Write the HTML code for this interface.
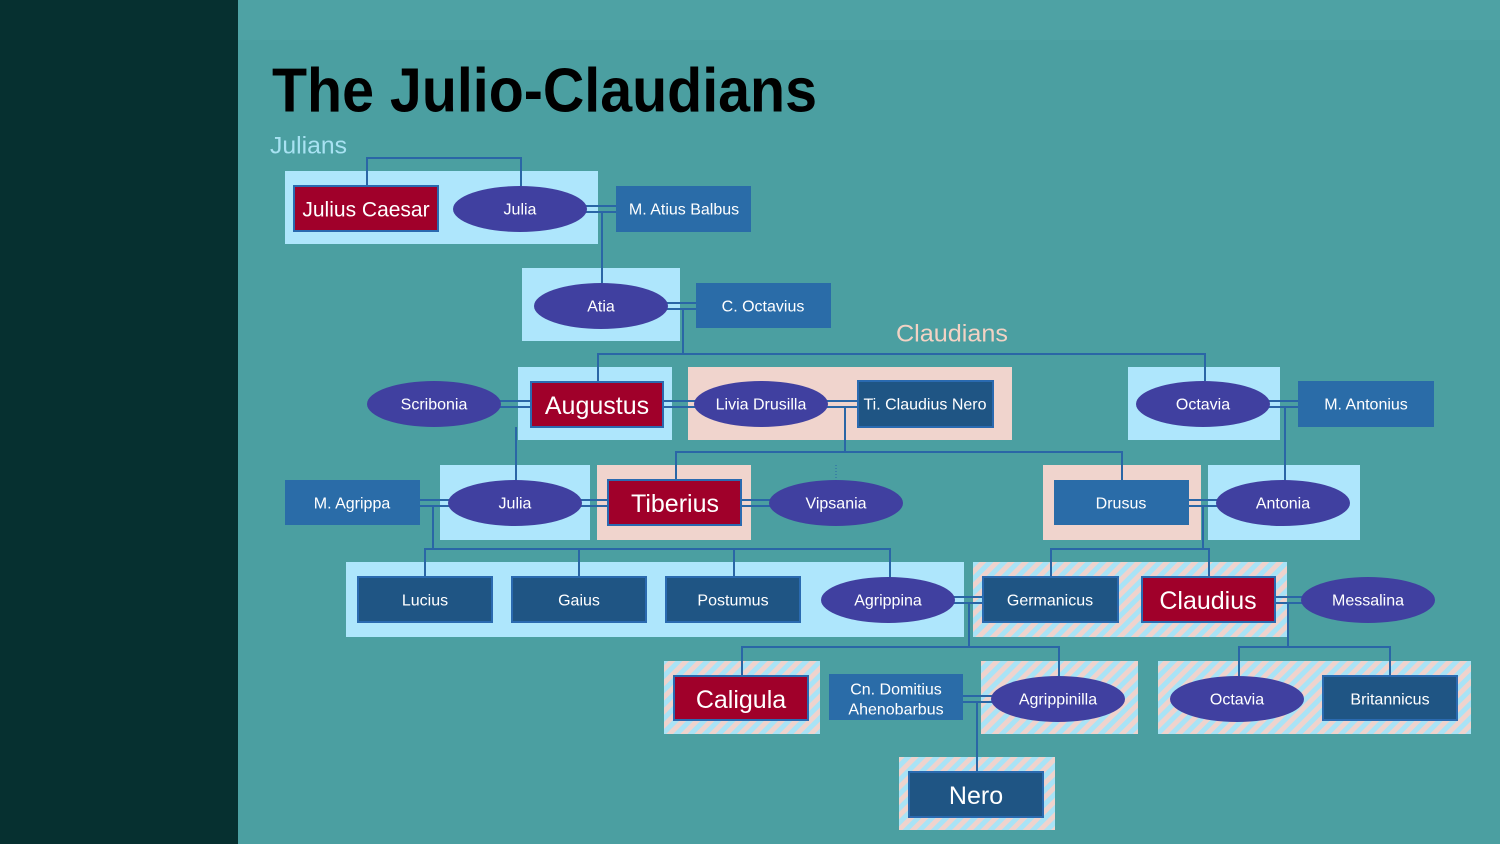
<!DOCTYPE html>
<html><head><meta charset="utf-8"><style>
html,body{margin:0;padding:0;width:1500px;height:844px;overflow:hidden;background:#4b9fa1}
svg{display:block}
text{font-family:"Liberation Sans",sans-serif;fill:#fff;text-anchor:middle;dominant-baseline:central}
</style></head><body>
<svg width="1500" height="844" viewBox="0 0 1500 844" xmlns="http://www.w3.org/2000/svg">
<defs>
<pattern id="st" width="10" height="10" patternUnits="userSpaceOnUse" patternTransform="rotate(45)">
<rect width="10" height="10" fill="#a9e3f6"/><rect width="5" height="10" fill="#efd3cd"/>
</pattern>
</defs>
<rect x="0" y="0" width="1500" height="844" fill="#4b9fa1"/>
<rect x="0" y="0" width="1500" height="40" fill="#52a6a7" opacity="0.5"/>
<rect x="0" y="0" width="238" height="844" fill="#063030"/>

<text x="272" y="91" style="font-size:62px;font-weight:bold;fill:#000;text-anchor:start" textLength="545" lengthAdjust="spacingAndGlyphs">The Julio-Claudians</text>
<text x="270" y="146" style="font-size:24px;fill:#a8e2f2;text-anchor:start" textLength="77" lengthAdjust="spacingAndGlyphs">Julians</text>
<text x="896" y="334" style="font-size:24px;fill:#f2d2c4;text-anchor:start" textLength="112" lengthAdjust="spacingAndGlyphs">Claudians</text>

<g>
<rect x="285" y="171" width="313" height="73" fill="#aee6fc"/>
<rect x="522" y="268" width="158" height="73" fill="#aee6fc"/>
<rect x="518" y="367" width="154" height="73" fill="#aee6fc"/>
<rect x="688" y="367" width="324" height="73" fill="#f0d4cd"/>
<rect x="1128" y="367" width="152" height="73" fill="#aee6fc"/>
<rect x="440" y="465" width="150" height="75" fill="#aee6fc"/>
<rect x="597" y="465" width="154" height="75" fill="#f0d4cd"/>
<rect x="1043" y="465" width="158" height="75" fill="#f0d4cd"/>
<rect x="1208" y="465" width="152" height="75" fill="#aee6fc"/>
<rect x="346" y="562" width="618" height="75" fill="#aee6fc"/>
<rect x="973" y="562" width="314" height="75" fill="url(#st)"/>
<rect x="664" y="661" width="156" height="73" fill="url(#st)"/>
<rect x="981" y="661" width="157" height="73" fill="url(#st)"/>
<rect x="1158" y="661" width="313" height="73" fill="url(#st)"/>
<rect x="899" y="757" width="156" height="73" fill="url(#st)"/>
</g>

<g stroke="#2a66a6" stroke-width="2" fill="none">
<polyline points="367,186 367,158 521,158 521,186"/>
<line x1="586" y1="206" x2="616" y2="206"/><line x1="586" y1="212" x2="616" y2="212"/>
<line x1="602" y1="212" x2="602" y2="283"/>
<line x1="667" y1="303" x2="696" y2="303"/><line x1="667" y1="309" x2="696" y2="309"/>
<line x1="683" y1="309" x2="683" y2="354"/>
<polyline points="598,381 598,354 1205,354 1205,381"/>
<line x1="500" y1="401" x2="531" y2="401"/><line x1="500" y1="407" x2="531" y2="407"/>
<line x1="663" y1="401" x2="695" y2="401"/><line x1="663" y1="407" x2="695" y2="407"/>
<line x1="826" y1="401" x2="858" y2="401"/><line x1="826" y1="407" x2="858" y2="407"/>
<line x1="845" y1="407" x2="845" y2="452"/>
<polyline points="676,480 676,452 1122,452 1122,480"/>
<line x1="1269" y1="401" x2="1298" y2="401"/><line x1="1269" y1="407" x2="1298" y2="407"/>
<line x1="1285" y1="407" x2="1285" y2="481"/>
<line x1="516" y1="427" x2="516" y2="481"/>
<line x1="420" y1="500" x2="450" y2="500"/><line x1="420" y1="506" x2="450" y2="506"/>
<line x1="580" y1="500" x2="608" y2="500"/><line x1="580" y1="506" x2="608" y2="506"/>
<line x1="741" y1="500" x2="772" y2="500"/><line x1="741" y1="506" x2="772" y2="506"/>
<line x1="1189" y1="500" x2="1218" y2="500"/><line x1="1189" y1="506" x2="1218" y2="506"/>
<line x1="433" y1="506" x2="433" y2="549"/>
<polyline points="425,577 425,549 890,549 890,578"/>
<line x1="579" y1="549" x2="579" y2="577"/><line x1="734" y1="549" x2="734" y2="577"/>
<line x1="1203" y1="506" x2="1203" y2="549"/>
<polyline points="1051,577 1051,549 1209,549 1209,577"/>
<line x1="953" y1="597" x2="983" y2="597"/><line x1="953" y1="603" x2="983" y2="603"/>
<line x1="969" y1="603" x2="969" y2="647"/>
<polyline points="742,676 742,647 1059,647 1059,677"/>
<line x1="1275" y1="597" x2="1303" y2="597"/><line x1="1275" y1="603" x2="1303" y2="603"/>
<line x1="1288" y1="603" x2="1288" y2="647"/>
<polyline points="1239,677 1239,647 1390,647 1390,676"/>
<line x1="963" y1="696" x2="992" y2="696"/><line x1="963" y1="702" x2="992" y2="702"/>
<line x1="977" y1="702" x2="977" y2="772"/>
<line x1="836" y1="465" x2="836" y2="478" stroke-dasharray="1,2" stroke-width="1"/>
</g>

<g stroke="#2a6ab0" stroke-width="2">
<rect x="294" y="186" width="144" height="45" fill="#a0002a"/>
<rect x="616" y="186" width="135" height="46" fill="#2a6ca8" stroke="none"/>
<rect x="696" y="283" width="135" height="45" fill="#2a6ca8" stroke="none"/>
<rect x="531" y="382" width="132" height="45" fill="#a0002a"/>
<rect x="858" y="381" width="135" height="46" fill="#1f5584"/>
<rect x="1298" y="381" width="136" height="46" fill="#2a6ca8" stroke="none"/>
<rect x="285" y="480" width="135" height="45" fill="#2a6ca8" stroke="none"/>
<rect x="608" y="480" width="133" height="45" fill="#a0002a"/>
<rect x="1054" y="480" width="135" height="45" fill="#2a6ca8" stroke="none"/>
<rect x="358" y="577" width="134" height="45" fill="#1f5584"/>
<rect x="512" y="577" width="134" height="45" fill="#1f5584"/>
<rect x="666" y="577" width="134" height="45" fill="#1f5584"/>
<rect x="983" y="577" width="135" height="45" fill="#1f5584"/>
<rect x="1142" y="577" width="133" height="45" fill="#a0002a"/>
<rect x="674" y="676" width="134" height="44" fill="#a0002a"/>
<rect x="829" y="674" width="134" height="46" fill="#2a6ca8" stroke="none"/>
<rect x="1323" y="676" width="134" height="44" fill="#1f5584"/>
<rect x="909" y="772" width="134" height="45" fill="#1f5584"/>
</g>
<g fill="#4040a0">
<ellipse cx="520" cy="209" rx="67" ry="23"/>
<ellipse cx="601" cy="306" rx="67" ry="23"/>
<ellipse cx="434" cy="404" rx="67" ry="23"/>
<ellipse cx="761" cy="404" rx="67" ry="23"/>
<ellipse cx="1203" cy="404" rx="67" ry="23"/>
<ellipse cx="515" cy="503" rx="67" ry="23"/>
<ellipse cx="836" cy="503" rx="67" ry="23"/>
<ellipse cx="1283" cy="503" rx="67" ry="23"/>
<ellipse cx="888" cy="600" rx="67" ry="23"/>
<ellipse cx="1368" cy="600" rx="67" ry="23"/>
<ellipse cx="1058" cy="699" rx="67" ry="23"/>
<ellipse cx="1237" cy="699" rx="67" ry="23"/>
</g>

<g style="font-size:16px">
<text x="366" y="210" style="font-size:21px">Julius Caesar</text>
<text x="520" y="210">Julia</text>
<text x="684" y="210">M. Atius Balbus</text>
<text x="601" y="307">Atia</text>
<text x="763" y="307">C. Octavius</text>
<text x="434" y="405">Scribonia</text>
<text x="597" y="406" style="font-size:25px">Augustus</text>
<text x="761" y="405">Livia Drusilla</text>
<text x="925" y="405">Ti. Claudius Nero</text>
<text x="1203" y="405">Octavia</text>
<text x="1366" y="405">M. Antonius</text>
<text x="352" y="504">M. Agrippa</text>
<text x="515" y="504">Julia</text>
<text x="675" y="504" style="font-size:25px">Tiberius</text>
<text x="836" y="504">Vipsania</text>
<text x="1121" y="504">Drusus</text>
<text x="1283" y="504">Antonia</text>
<text x="425" y="601">Lucius</text>
<text x="579" y="601">Gaius</text>
<text x="733" y="601">Postumus</text>
<text x="888" y="601">Agrippina</text>
<text x="1050" y="601">Germanicus</text>
<text x="1208" y="601" style="font-size:25px">Claudius</text>
<text x="1368" y="601">Messalina</text>
<text x="741" y="700" style="font-size:25px">Caligula</text>
<text x="896" y="690">Cn. Domitius</text>
<text x="896" y="710">Ahenobarbus</text>
<text x="1058" y="700">Agrippinilla</text>
<text x="1237" y="700">Octavia</text>
<text x="1390" y="700">Britannicus</text>
<text x="976" y="796" style="font-size:25px">Nero</text>
</g>
</svg>
</body></html>
